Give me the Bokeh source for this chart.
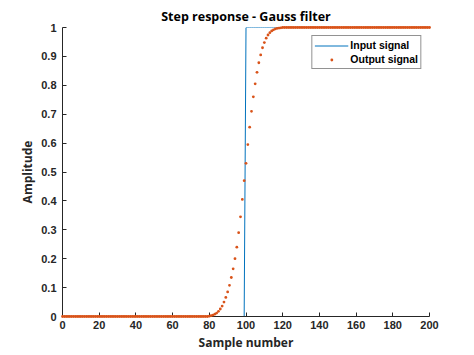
from bokeh.plotting import figure
from bokeh.models import Range1d, Legend, LegendItem, FixedTicker, ColumnDataSource
from bokeh.embed import file_html
from bokeh.resources import INLINE

# ---- data ----
samples = list(range(0, 201))
input_signal = [0.0] * 100 + [1.0] * 101

output_low = [0.0] * 80
output_transition = [0.001, 0.003, 0.005, 0.008, 0.012, 0.018, 0.026, 0.036, 0.050, 0.066,
                     0.085, 0.108, 0.135, 0.165, 0.200, 0.240, 0.290, 0.345, 0.405, 0.470,
                     0.530, 0.595, 0.655, 0.710, 0.760, 0.805, 0.845, 0.878, 0.905, 0.930,
                     0.948, 0.963, 0.974, 0.982, 0.988, 0.992, 0.995, 0.997, 0.998, 0.999]
output_high = [1.0] * 81
output_signal = output_low + output_transition + output_high

x_ticks = [0, 20, 40, 60, 80, 100, 120, 140, 160, 180, 200]
y_ticks = [0, 0.1, 0.2, 0.3, 0.4, 0.5, 0.6, 0.7, 0.8, 0.9, 1]

title_text = "Step response - Gauss filter"
x_label = "Sample number"
y_label = "Amplitude"
names = ["Input signal", "Output signal"]

FONT = "Liberation Sans"
TFONT = "Open Sans"
AX = "#262626"

p = figure(width=474, height=355, output_backend="svg", toolbar_location=None,
           x_range=Range1d(0, 200), y_range=Range1d(0, 1),
           min_border_left=62, min_border_right=45, min_border_top=27, min_border_bottom=39)
p.outline_line_color = None
p.grid.visible = False
p.background_fill_color = "white"
p.border_fill_color = "white"

p.title.text = title_text
p.title.align = "center"
p.title.text_font = TFONT
p.title.text_font_size = "12.5px"
p.title.text_font_style = "bold"
p.title.text_color = "black"
p.title.offset = 0
p.title.standoff = 5

for ax in (p.xaxis[0], p.yaxis[0]):
    ax.axis_line_color = AX
    ax.major_tick_line_color = AX
    ax.minor_tick_line_color = None
    ax.major_tick_in = 4
    ax.major_tick_out = 0
    ax.major_label_text_font = FONT
    ax.major_label_text_font_size = "11px"
    ax.major_label_text_font_style = "bold"
    ax.major_label_text_color = AX
    ax.axis_label_text_font = TFONT
    ax.axis_label_text_font_size = "12px"
    ax.axis_label_text_font_style = "bold"
    ax.axis_label_text_color = AX

p.xaxis.ticker = FixedTicker(ticks=x_ticks)
p.yaxis.ticker = FixedTicker(ticks=y_ticks)
p.xaxis.major_label_overrides = {t: str(t) for t in x_ticks}
p.yaxis.major_label_overrides = {t: ("0" if t == 0 else ("1" if t == 1 else str(t))) for t in y_ticks}
p.xaxis.axis_label = x_label
p.yaxis.axis_label = y_label
p.xaxis.major_label_standoff = 4
p.yaxis.major_label_standoff = 6
p.xaxis.axis_label_standoff = 2
p.yaxis.axis_label_standoff = 2

src = ColumnDataSource(dict(x=samples, inp=input_signal, out=output_signal))
r_in = p.line("x", "inp", source=src, line_color="#0072BD", line_width=1)
r_out = p.scatter("x", "out", source=src, marker="circle", size=2.8,
                  fill_color="#D95319", line_color="#D95319", line_width=0,
                  level="overlay")

legend = Legend(items=[LegendItem(label=names[0], renderers=[r_in]),
                       LegendItem(label=names[1], renderers=[r_out])],
                location="top_right")
legend.margin = 8
legend.padding = 2
legend.spacing = 0
legend.glyph_width = 34
legend.glyph_height = 7
legend.label_height = 14
legend.label_standoff = 2
legend.label_text_font = FONT
legend.label_text_font_size = "10.5px"
legend.label_text_font_style = "bold"
legend.label_text_color = "black"
legend.border_line_color = "#262626"
legend.border_line_width = 1
legend.background_fill_alpha = 1
p.add_layout(legend)

open("out.html", "w").write(file_html(p, INLINE))
